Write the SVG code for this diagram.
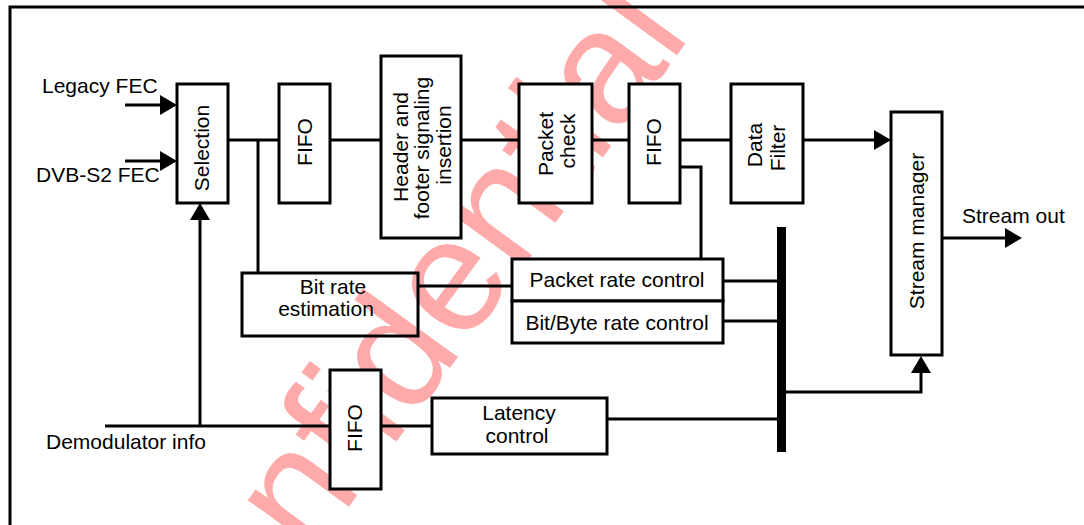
<svg xmlns="http://www.w3.org/2000/svg" width="1084" height="525" viewBox="0 0 1084 525">
  <style>
    .box { fill: #fff; stroke: #000; stroke-width: 3; }
    .open { fill: none; stroke: #000; stroke-width: 3; }
    .ln { fill: none; stroke: #000; stroke-width: 3; }
    .t { font-family: "Liberation Sans", Arial, Helvetica, sans-serif; font-size: 21px; fill: #000; }
    .m { text-anchor: middle; }
    .wm { font-family: "Liberation Sans", Arial, sans-serif; font-size: 162px; fill: #ffaaaa; }
  </style>
  <defs>
    <marker id="ah" markerUnits="userSpaceOnUse" markerWidth="17" markerHeight="20" viewBox="0 0 17 20" refX="0" refY="10" orient="auto" overflow="visible">
      <path d="M0,0 L17,10 L0,20 Z" fill="#000"/>
    </marker>
  </defs>
  <rect width="1084" height="525" fill="#fff"/>

  <g id="watermark">
    <text class="wm" transform="translate(210,698) rotate(-54)">confidential</text>
  </g>

  <path id="frame" d="M10,525 V7 H1084" fill="none" stroke="#000" stroke-width="3"/>

  <g id="connectors">
    <path class="ln" d="M125,105 H160" marker-end="url(#ah)"/>
    <path class="ln" d="M125,161 H160" marker-end="url(#ah)"/>
    <path class="ln" d="M228,140 H279"/>
    <path class="ln" d="M330,140 H381"/>
    <path class="ln" d="M461,140 H519"/>
    <path class="ln" d="M592,140 H629"/>
    <path class="ln" d="M680,140 H731"/>
    <path class="ln" d="M803,140 H874" marker-end="url(#ah)"/>
    <path class="ln" d="M258,140 V273"/>
    <path class="ln" d="M680,167 H701 V259"/>
    <path class="ln" d="M418,286 H512"/>
    <path class="ln" d="M723,281 H777"/>
    <path class="ln" d="M723,321 H777"/>
    <path class="ln" d="M607,419 H777"/>
    <path class="ln" d="M786,392 H921 V373" marker-end="url(#ah)"/>
    <path class="ln" d="M942,238 H1005" marker-end="url(#ah)"/>
    <path class="ln" d="M105,426 H330"/>
    <path class="ln" d="M200,426 V220" marker-end="url(#ah)"/>
    <path class="ln" d="M381,426 H432"/>
    <rect id="bus" x="777" y="227" width="9" height="225" fill="#000"/>
  </g>

  <g id="labels">
    <text class="t" x="42" y="93">Legacy FEC</text>
    <text class="t" x="36" y="182">DVB-S2 FEC</text>
    <text class="t" x="962" y="223">Stream out</text>
    <text class="t" x="46" y="449">Demodulator info</text>
  </g>

  <g id="selection">
    <rect class="box" x="177" y="84" width="51" height="119"/>
    <text class="t m" transform="translate(209,148) rotate(-90)">Selection</text>
  </g>
  <g id="fifo1">
    <rect class="box" x="279" y="84" width="51" height="119"/>
    <text class="t m" transform="translate(312,142) rotate(-90)">FIFO</text>
  </g>
  <g id="header-footer">
    <rect class="box" x="381" y="56" width="80" height="182"/>
    <text class="t m" transform="translate(408,147) rotate(-90)">Header and</text>
    <text class="t m" transform="translate(429,148) rotate(-90)">footer signaling</text>
    <text class="t m" transform="translate(451,145) rotate(-90)">insertion</text>
  </g>
  <g id="packet-check">
    <rect class="box" x="519" y="84" width="73" height="119"/>
    <text class="t m" transform="translate(553,144) rotate(-90)">Packet</text>
    <text class="t m" transform="translate(575,141) rotate(-90)">check</text>
  </g>
  <g id="fifo2">
    <rect class="box" x="629" y="84" width="51" height="119"/>
    <text class="t m" transform="translate(661,142) rotate(-90)">FIFO</text>
  </g>
  <g id="data-filter">
    <rect class="box" x="731" y="84" width="72" height="119"/>
    <text class="t m" transform="translate(762,145) rotate(-90)">Data</text>
    <text class="t m" transform="translate(785,148) rotate(-90)">Filter</text>
  </g>
  <g id="stream-manager">
    <rect class="box" x="891" y="112" width="51" height="243"/>
    <text class="t m" transform="translate(924,231) rotate(-90)">Stream manager</text>
  </g>
  <g id="bit-rate-estimation">
    <rect class="open" x="242" y="273" width="176" height="63"/>
    <text class="t m" x="333" y="294">Bit rate</text>
    <text class="t m" x="326" y="316">estimation</text>
  </g>
  <g id="packet-rate-control">
    <rect class="box" x="512" y="259" width="211" height="42"/>
    <text class="t m" x="617" y="287">Packet rate control</text>
  </g>
  <g id="byte-rate-control">
    <rect class="box" x="512" y="301" width="211" height="42"/>
    <text class="t m" x="617" y="330">Bit/Byte rate control</text>
  </g>
  <g id="fifo3">
    <rect class="box" x="330" y="370" width="51" height="119"/>
    <text class="t m" transform="translate(362,428) rotate(-90)">FIFO</text>
  </g>
  <g id="latency-control">
    <rect class="box" x="432" y="398" width="175" height="56"/>
    <text class="t m" x="519" y="420">Latency</text>
    <text class="t m" x="517" y="443">control</text>
  </g>
</svg>
